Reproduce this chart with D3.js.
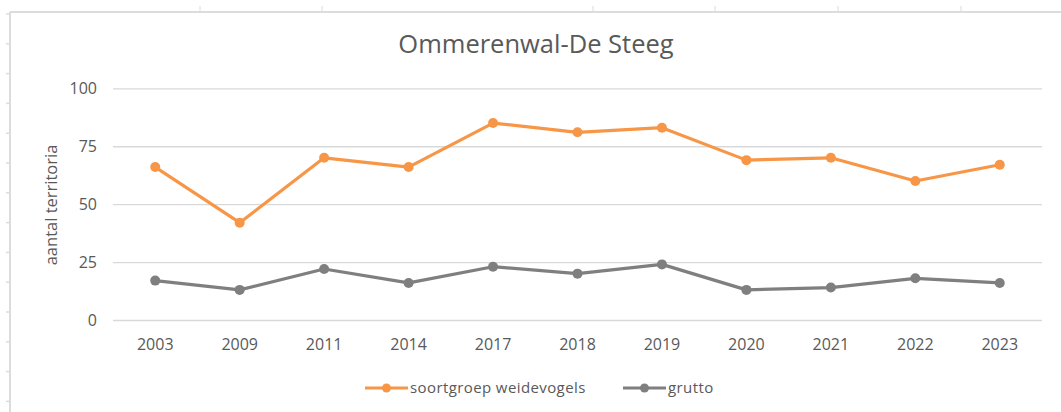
<!DOCTYPE html>
<html>
<head>
<meta charset="utf-8">
<script src="https://d3js.org/d3.v7.min.js"></script>
<style>
    body { margin: 0; background: #fff; }
    svg { display: block; font-family: "Open Sans", sans-serif; }
    .grid line { stroke: #d9d9d9; stroke-width: 1.3; }
    .grid text, .xlab text { fill: #595959; }
</style>
</head>
<body>
<svg width="1061" height="412"></svg>
<script>
var years = ["2003", "2009", "2011", "2014", "2017", "2018", "2019", "2020", "2021", "2022", "2023"];
var weidevogels = [66, 42, 70, 66, 85, 81, 83, 69, 70, 60, 67];
var grutto = [17, 13, 22, 16, 23, 20, 24, 13, 14, 18, 16];
var yTicks = [0, 25, 50, 75, 100];
var seriesNames = ["soortgroep weidevogels", "grutto"];
var seriesColors = ["#f79646", "#7f7f7f"];

var svg = d3.select("svg"),
    width = +svg.attr("width"),
    height = +svg.attr("height");

// frame of the pasted picture: top and left edge with small marks
var frame = svg.append("g").attr("stroke", "#dcdcdc").attr("stroke-width", 2);
frame.append("line").attr("x1", 10).attr("x2", width).attr("y1", 12).attr("y2", 12);
frame.append("line").attr("x1", 10).attr("x2", 10).attr("y1", 12).attr("y2", height);
[200, 322, 593, 715, 838, 961].forEach(function(x) {
    frame.append("line").attr("x1", x).attr("x2", x).attr("y1", 6).attr("y2", 12).attr("stroke-width", 1);
});
d3.range(14, height, 29.8).forEach(function(y) {
    frame.append("line").attr("x1", 6).attr("x2", 10).attr("y1", y).attr("y2", y).attr("stroke-width", 1.5);
});

var x = d3.scaleBand()
    .domain(years)
    .range([113, 1042]);

var y = d3.scaleLinear()
    .domain([0, 100])
    .range([320, 88.3]);

// gridlines + y labels
var grid = svg.append("g")
    .attr("class", "grid")
    .attr("transform", "translate(113,0)")
    .call(d3.axisLeft(y).tickValues(yTicks).tickSize(-(1042 - 113)).tickPadding(16));
grid.select(".domain").remove();
grid.selectAll("text").attr("font-size", 16).attr("font-family", "Open Sans");

// x labels
var xlab = svg.append("g")
    .attr("class", "xlab")
    .attr("transform", "translate(0,320)")
    .call(d3.axisBottom(x).tickSize(0).tickPadding(19));
xlab.select(".domain").remove();
xlab.selectAll("text").attr("font-size", 16).attr("font-family", "Open Sans");

svg.append("text")
    .attr("transform", "translate(57,205) rotate(-90)")
    .attr("text-anchor", "middle")
    .attr("font-size", 16.5)
    .attr("fill", "#595959")
    .text("aantal territoria");

var title = svg.append("text")
    .attr("x", 536)
    .attr("y", 53)
    .attr("text-anchor", "middle")
    .attr("font-size", 25.5)
    .attr("fill", "#595959")
    .text("Ommerenwal-De Steeg");

var line = d3.line()
    .x(function(d, i) { return x(years[i]) + x.bandwidth() / 2; })
    .y(function(d) { return y(d); });

[weidevogels, grutto].forEach(function(values, s) {
    var g = svg.append("g");
    g.append("path")
        .datum(values)
        .attr("fill", "none")
        .attr("stroke", seriesColors[s])
        .attr("stroke-width", 3.2)
        .attr("stroke-linejoin", "round")
        .attr("d", line);
    g.selectAll("circle")
        .data(values)
        .enter().append("circle")
            .attr("cx", function(d, i) { return x(years[i]) + x.bandwidth() / 2; })
            .attr("cy", function(d) { return y(d); })
            .attr("r", 5)
            .attr("fill", seriesColors[s]);
});

// legend
var legendX = [365, 623];
seriesNames.forEach(function(name, s) {
    var lg = svg.append("g").attr("transform", "translate(" + legendX[s] + ",388)");
    lg.append("line")
        .attr("x1", 0).attr("x2", 43)
        .attr("stroke", seriesColors[s])
        .attr("stroke-width", 3.2);
    lg.append("circle").attr("cx", 21.5).attr("r", 4.5).attr("fill", seriesColors[s]);
    lg.append("text")
        .attr("x", 45)
        .attr("y", 5)
        .attr("font-size", 15)
        .attr("letter-spacing", 0.4)
        .attr("fill", "#595959")
        .text(name);
});
</script>
</body>
</html>
